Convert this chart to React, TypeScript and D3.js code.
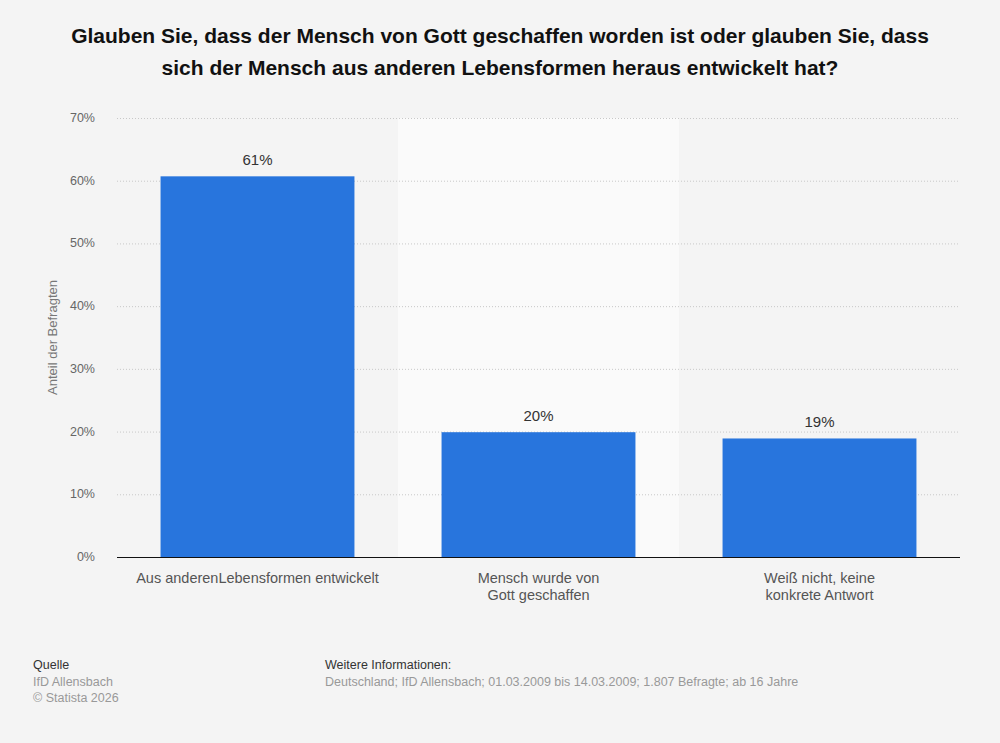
import * as d3 from "d3";
import { useEffect, useRef } from "react";

const categories = [
  ["Aus anderenLebensformen entwickelt"],
  ["Mensch wurde von", "Gott geschaffen"],
  ["Weiß nicht, keine", "konkrete Antwort"],
];
const values = [60.7, 19.9, 18.9];
const labels = ["61%", "20%", "19%"];
const yTicks = [0, 10, 20, 30, 40, 50, 60, 70];

function drawChart(container: HTMLElement) {
  const width = 1000;
  const height = 743;
  const marginLeft = 117;
  const marginRight = 40;
  const marginTop = 118;
  const plotBottom = 557;
  const font = "Arial, 'Liberation Sans', Helvetica, sans-serif";
  const narrow = "'Liberation Sans Narrow', 'Arial Narrow', Arial, sans-serif";

  const svg = d3.select(container)
    .append("svg")
    .attr("width", width)
    .attr("height", height)
    .attr("viewBox", [0, 0, width, height])
    .style("position", "absolute")
    .style("left", "0px")
    .style("top", "0px")
    .style("font-family", font);

  svg.append("rect").attr("width", width).attr("height", height).attr("fill", "#f4f4f4");

  const x = d3.scaleBand<number>()
    .domain(values.map((_, i) => i))
    .range([marginLeft, width - marginRight])
    .paddingInner(0.31)
    .paddingOuter(0.155);
  const y = d3.scaleLinear().domain([0, 70]).range([plotBottom, marginTop]);

  // alternating background band
  const step = x.step();
  svg.append("g")
    .selectAll("rect")
    .data(values.map((_, i) => i).filter(i => i % 2 === 1))
    .join("rect")
    .attr("x", i => x(i)! - step * 0.155)
    .attr("y", y(70))
    .attr("width", step)
    .attr("height", y(0) - y(70))
    .attr("fill", "#fafafa");

  // grid
  svg.append("g")
    .selectAll("line")
    .data(yTicks.filter(t => t > 0))
    .join("line")
    .attr("x1", marginLeft)
    .attr("x2", width - marginRight)
    .attr("y1", d => y(d) + 0.5)
    .attr("y2", d => y(d) + 0.5)
    .attr("stroke", "#c8c8c8")
    .attr("stroke-width", 1)
    .attr("stroke-dasharray", "1,2");

  // y tick labels
  svg.append("g")
    .selectAll("text")
    .data(yTicks)
    .join("text")
    .attr("x", 95)
    .attr("y", d => y(d) + 4)
    .attr("text-anchor", "end")
    .attr("font-size", 12.5)
    .attr("fill", "#666")
    .text(d => `${d}%`);

  svg.append("text")
    .attr("transform", `translate(57, ${(y(0) + y(70)) / 2}) rotate(-90)`)
    .attr("text-anchor", "middle")
    .attr("font-size", 13)
    .attr("fill", "#777")
    .text("Anteil der Befragten");

  // bars
  svg.append("g")
    .attr("fill", "#2875dd")
    .selectAll("rect")
    .data(values)
    .join("rect")
    .attr("x", (_, i) => x(i)!)
    .attr("y", d => y(d))
    .attr("width", x.bandwidth())
    .attr("height", d => y(0) - y(d));

  svg.append("g")
    .selectAll("text")
    .data(values)
    .join("text")
    .attr("x", (_, i) => x(i)! + x.bandwidth() / 2)
    .attr("y", d => y(d) - 11)
    .attr("text-anchor", "middle")
    .attr("font-size", 15)
    .attr("fill", "#333")
    .text((_, i) => labels[i]);

  // baseline
  svg.append("line")
    .attr("x1", marginLeft)
    .attr("x2", width - marginRight)
    .attr("y1", plotBottom + 0.5)
    .attr("y2", plotBottom + 0.5)
    .attr("stroke", "#111")
    .attr("stroke-width", 1.2);

  // x labels
  const xl = svg.append("g")
    .selectAll("text")
    .data(categories)
    .join("text")
    .attr("x", (_, i) => x(i)! + x.bandwidth() / 2)
    .attr("y", 583)
    .attr("text-anchor", "middle")
    .attr("font-size", 14.5)
    .attr("fill", "#555");
  xl.selectAll("tspan")
    .data(d => d)
    .join("tspan")
    .attr("x", function () { return (this.parentNode as SVGTextElement).getAttribute("x"); })
    .attr("dy", (_, j) => (j === 0 ? 0 : 17))
    .text(d => d);

  // title
  const title = svg.append("text")
    .attr("text-anchor", "middle")
    .attr("font-size", 21)
    .attr("font-weight", "bold")
    .attr("fill", "#111");
  ["Glauben Sie, dass der Mensch von Gott geschaffen worden ist oder glauben Sie, dass",
    "sich der Mensch aus anderen Lebensformen heraus entwickelt hat?"].forEach((t, i) => {
    title.append("tspan").attr("x", 500).attr("y", 43 + i * 32).text(t);
  });

  // footer
  const footer = svg.append("g").style("font-family", narrow).attr("font-size", 12.5);
  footer.append("text").attr("x", 33).attr("y", 669).attr("fill", "#333").text("Quelle");
  footer.append("text").attr("x", 33).attr("y", 686).attr("fill", "#999").text("IfD Allensbach");
  footer.append("text").attr("x", 33).attr("y", 702).attr("fill", "#999").text("© Statista 2026");
  footer.append("text").attr("x", 325).attr("y", 669).attr("fill", "#333").text("Weitere Informationen:");
  footer.append("text").attr("x", 325).attr("y", 686).attr("fill", "#999")
    .text("Deutschland; IfD Allensbach; 01.03.2009 bis 14.03.2009; 1.807 Befragte; ab 16 Jahre");
}

export default function App() {
  const domRef = useRef<HTMLDivElement>(null);
  useEffect(() => {
    if (domRef.current) {
      drawChart(domRef.current);
    }
    return () => {
      if (domRef.current) {
        d3.select(domRef.current).selectAll("svg").remove();
      }
    };
  }, [domRef]);
  return <div ref={domRef}></div>;
}
